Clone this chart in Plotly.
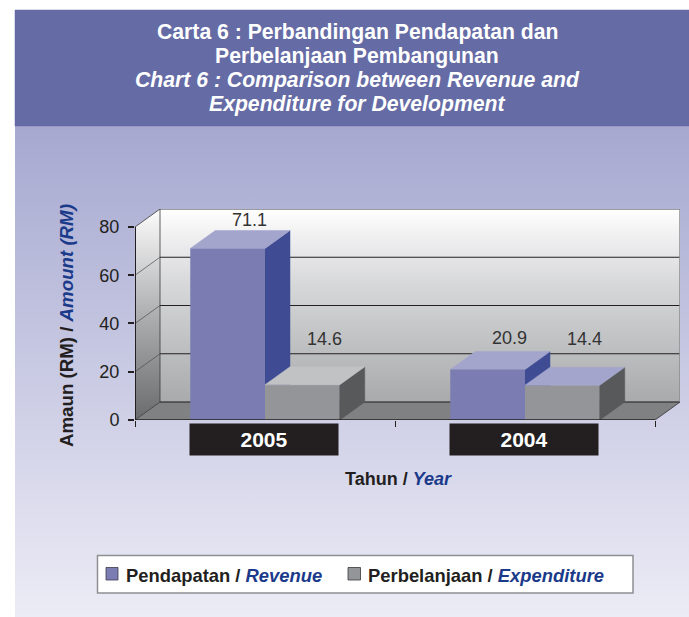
import plotly.graph_objects as go

years = ["2005", "2004"]
revenue = [71.1, 20.9]
expenditure = [14.6, 14.4]
y_ticks = [0, 20, 40, 60, 80]

W, H = 689, 617
REV_FRONT, REV_SIDE, REV_TOP = "#7a7cb2", "#3f4c94", "#a3a5cc"
EXP_FRONT, EXP_SIDE = "#949598", "#58595b"
EXP_TOP = ["#c1c2c4", "#a3a5cc"]
INK = "#231f20"
BLUE = "#1b3a8a"

# Geometry of the pseudo-3D box, in axis units
DX, DY = 25 / 260, 18 / 2.416
XMAX, YMAX = 2 + DX, 80 + DY
BAR_W = 0.2875
CENTRES = [0.5, 1.5]

fig = go.Figure()


def poly(xs, ys, color, ax, line=None):
    fig.add_trace(go.Scatter(
        x=xs + xs[:1], y=ys + ys[:1], mode="lines", fill="toself", fillcolor=color,
        line=dict(color=line or color, width=0.5), xaxis=ax[0], yaxis=ax[1],
        hoverinfo="skip", showlegend=False))


def grad(xs, ys, stops, ax, start=None, stop=None):
    fig.add_trace(go.Scatter(
        x=xs + xs[:1], y=ys + ys[:1], mode="lines", fill="toself",
        fillgradient=dict(type="vertical", colorscale=stops, start=start, stop=stop),
        line=dict(width=0), xaxis=ax[0], yaxis=ax[1], hoverinfo="skip", showlegend=False))


def seg(xs, ys, color, width, ax):
    fig.add_trace(go.Scatter(
        x=xs, y=ys, mode="lines", line=dict(color=color, width=width),
        xaxis=ax[0], yaxis=ax[1], hoverinfo="skip", showlegend=False))


PAGE = ("x", "y")
WALL = ("x2", "y2")
BARS = ("x3", "y3")

# Page background: gradient panel and title band
grad([15, W, W, 15], [126, 126, H, H], [[0, "#a6a8d0"], [1, "#ecECf6"]], PAGE, 126, H)
poly([15, W, W, 15], [10, 10, 126, 126], "#656ba5", PAGE)

# Walls and floor of the box
grad([DX, XMAX, XMAX, DX], [DY, DY, YMAX, YMAX],
     [[0, "#a9aaac"], [0.6, "#d6d7d9"], [0.88, "#f2f2f3"], [1, "#ffffff"]], WALL, DY, YMAX)
grad([0, DX, DX, 0], [0, DY, YMAX, 80],
     [[0, "#6a6b6c"], [0.5, "#aeafb1"], [1, "#fcfcfc"]], WALL, 0, YMAX)
poly([0, DX, XMAX, 2], [0, DY, DY, 0], "#808183", WALL)
for v in y_ticks[1:-1]:
    seg([DX, XMAX], [v + DY, v + DY], INK, 1.2, WALL)
    seg([0, DX], [v, v + DY], "#4b4b4d", 0.7, WALL)
seg([DX, XMAX], [DY, DY], INK, 1.2, WALL)
seg([DX, XMAX], [YMAX, YMAX], "#3a3a3c", 1.2, WALL)
seg([0, DX], [80, YMAX], "#3a3a3c", 0.8, WALL)
seg([DX, DX], [DY, YMAX], "#3a3a3c", 0.8, WALL)
seg([0, DX], [0, DY], "#3a3a3c", 0.8, WALL)
seg([XMAX, XMAX], [DY, YMAX], "#8c8d90", 1.5, WALL)
seg([2, XMAX], [0, DY], "#3a3a3c", 0.8, WALL)

# Revenue side and top faces (behind the fronts of both series)
for c, v in zip(CENTRES, revenue):
    l, r = c - BAR_W, c
    poly([r, r + DX, r + DX, r], [0, DY, v + DY, v], REV_SIDE, WALL)
    poly([l, r, r + DX, l + DX], [v, v, v + DY, v + DY], REV_TOP, WALL)

# Front faces as real bars
fig.add_trace(go.Bar(x=CENTRES, y=revenue, name="Pendapatan / Revenue", marker_color=REV_FRONT,
                     marker_line_width=0, xaxis="x3", yaxis="y3", showlegend=False))
fig.add_trace(go.Bar(x=CENTRES, y=expenditure, name="Perbelanjaan / Expenditure", marker_color=EXP_FRONT,
                     marker_line_width=0, xaxis="x3", yaxis="y3", showlegend=False))

# Expenditure side and top faces
for c, v, top in zip(CENTRES, expenditure, EXP_TOP):
    l, r = c, c + BAR_W
    poly([r, r + DX, r + DX, r], [0, DY, v + DY, v], EXP_SIDE, BARS)
    poly([l, r, r + DX, l + DX], [v, v, v + DY, v + DY], top, BARS)

# Front axis lines
seg([0, 2], [0, 0], INK, 1.5, BARS)
seg([0, 0], [0, 80], INK, 2, BARS)

hidden = dict(visible=False, showgrid=False, zeroline=False, fixedrange=True, automargin=False)
bottom = (H - 420) / H
top = (H - 209) / H
xdom = [135 / W, 680 / W]
fig.update_layout(
    width=W, height=H, margin=dict(l=0, r=0, t=0, b=0), autosize=False,
    paper_bgcolor="#ffffff", plot_bgcolor="rgba(0,0,0,0)", showlegend=False,
    barmode="group", bargap=0.425, bargroupgap=0,
    font=dict(family="Liberation Sans, Arial, sans-serif", color=INK),
    xaxis=dict(hidden, domain=[0, 1], range=[0, W]),
    yaxis=dict(hidden, domain=[0, 1], range=[H, 0]),
    xaxis2=dict(hidden, domain=xdom, range=[0, XMAX], anchor="y2"),
    yaxis2=dict(hidden, domain=[bottom, top], range=[0, YMAX], anchor="x2"),
    xaxis3=dict(domain=xdom, range=[0, XMAX], anchor="y3", tickvals=[0, 1, 2], ticktext=["", "", ""],
                ticks="outside", ticklen=6, tickwidth=1, tickcolor=INK, automargin=False,
                showgrid=False, zeroline=False, showline=False, fixedrange=True),
    yaxis3=dict(domain=[bottom, top], range=[0, YMAX], anchor="x3", tickvals=y_ticks,
                ticks="outside", ticklen=6, tickwidth=2, tickcolor=INK, ticklabelstandoff=5,
                tickfont=dict(size=18, color=INK), automargin=False,
                showgrid=False, zeroline=False, showline=False, fixedrange=True),
)

shapes = [
    dict(type="rect", xref="x", yref="y", x0=97.5, x1=633, y0=555.5, y1=593, layer="above",
         fillcolor="#ffffff", line=dict(color="#8e8f94", width=1.5)),
    dict(type="rect", xref="x", yref="y", x0=106, x1=118, y0=567.5, y1=580, layer="above",
         fillcolor=REV_FRONT, line=dict(color="#3a3a4a", width=0.8)),
    dict(type="rect", xref="x", yref="y", x0=348, x1=360.5, y0=567.5, y1=580, layer="above",
         fillcolor=EXP_FRONT, line=dict(color="#3a3a3c", width=0.8)),
]
fig.update_layout(shapes=shapes)

ann = []


def text(s, x, y, size, color=INK, xanchor="center", **kw):
    ann.append(dict(text=s, x=x, y=y, xref="x", yref="y", xanchor=xanchor, yanchor="middle",
                    showarrow=False, font=dict(size=size, color=color), **kw))


title_lines = [
    ("<b>Carta 6 : Perbandingan Pendapatan dan</b>", 32),
    ("<b>Perbelanjaan Pembangunan</b>", 56),
    ("<b><i>Chart 6 : Comparison between Revenue and</i></b>", 80),
    ("<b><i>Expenditure for Development</i></b>", 104),
]
for line, y in title_lines:
    text(line, 357, y, 21.2, "#ffffff")
text("<b>Amaun (RM) / <span style='color:%s'><i>Amount (RM)</i></span></b>" % BLUE, 66, 326, 18.7, textangle=-90)
text("<b>Tahun / <span style='color:%s'><i>Year</i></span></b>" % BLUE, 398, 479, 18)
text("<b>Pendapatan / <span style='color:%s'><i>Revenue</i></span></b>" % BLUE, 124, 575, 18.4, xanchor="left")
text("<b>Perbelanjaan / <span style='color:%s'><i>Expenditure</i></span></b>" % BLUE, 366, 575, 18.4, xanchor="left")

# Year plates under each group
for c, label in zip(CENTRES, years):
    ann.append(dict(text="<b>%s</b>" % label, x=c, xref="x3", y=439, yref="y", xshift=-1,
                    yanchor="middle", showarrow=False, width=146, height=29, bgcolor=INK,
                    font=dict(size=21, color="#ffffff")))

# Value labels, placed above the top of each bar
value_labels = [(c - BAR_W / 2, v, dy) for c, v, dy in zip(CENTRES, revenue, [28, 32])] + \
               [(c + BAR_W / 2, v, dy) for c, v, dy in zip(CENTRES, expenditure, [46, 46])]
for x, v, dy in value_labels:
    ann.append(dict(text=f"{v:.1f}", x=x + DX * 0.92, xref="x3", y=v, yref="y3", yshift=dy, xshift=-1,
                    yanchor="middle", showarrow=False, font=dict(size=18, color="#333333")))

fig.update_layout(annotations=ann)

fig.write_html("out.html", config=dict(displayModeBar=False),
               post_script="document.body.style.margin='0';")
